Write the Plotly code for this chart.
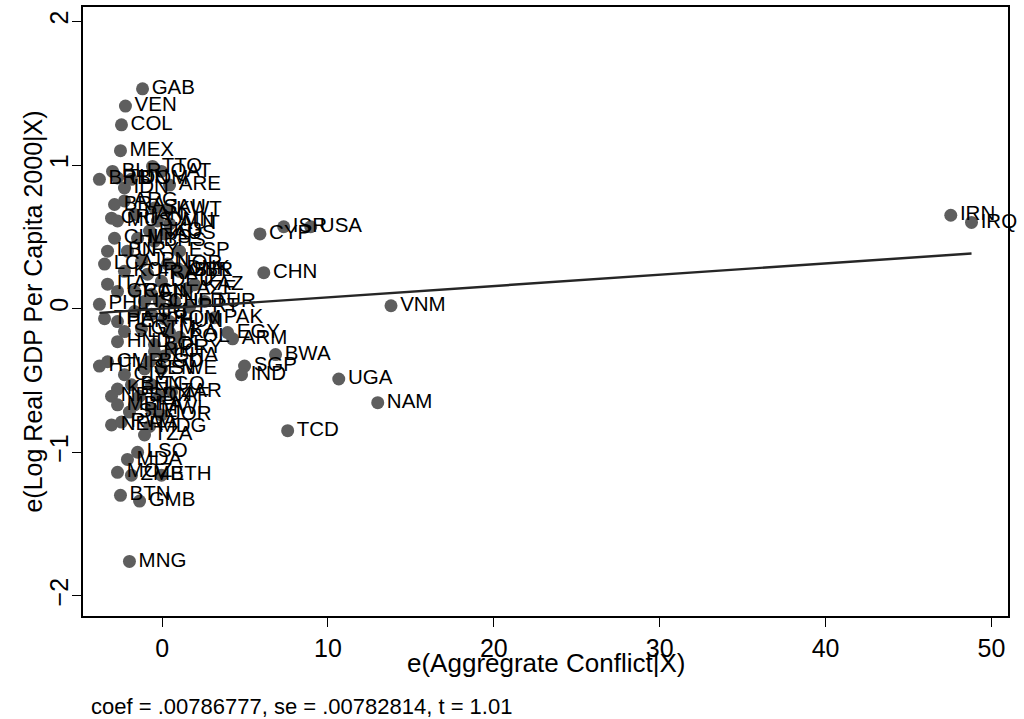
import plotly.graph_objects as go

# Country codes, residualised conflict (x) and residualised log GDP (y)
countries = [
    "GAB", "VEN", "COL", "MEX", "TTO", "QAT", "BLR", "BRB", "TUN", "DOM",
    "ARE", "IDN", "ARG", "BRA", "KWT", "SAU", "OMN", "CRI", "PAN", "MUS",
    "AUT", "CHL", "MYS", "AUS", "BHS", "HKG", "LBN", "LCA", "URY", "JPN",
    "KOR", "FRA", "NOR", "DNK", "GBR", "ESP", "BEL", "DEU", "ITA", "GRC",
    "CAN", "FIN", "AZE", "KAZ", "TUR", "NLD", "PRT", "CHE", "ISL", "PHL",
    "THA", "PER", "ECU", "IRL", "ROM", "HUN", "SLV", "GTM", "LKA", "POL",
    "BOL", "PRY", "HND", "CMR", "NIC", "GHA", "BGD", "SEN", "SWE", "CIV",
    "HTI", "KEN", "BEN", "TGO", "ZAR", "SDN", "CAF", "NPL", "MLI", "BFA",
    "MWI", "SLE", "NER", "RWA", "JOR", "MDG", "TZA", "LSO", "MDA", "MOZ",
    "ZMB", "ETH", "BTN", "GMB", "MNG", "ISR", "USA", "CYP", "CHN", "VNM",
    "PAK", "EGY", "ARM", "BWA", "SGP", "IND", "UGA", "NAM", "TCD", "IRN",
    "IRQ",
]
conflict_resid = [
    -1.18, -2.21, -2.45, -2.51, -0.58, -0.04, -2.99, -3.78, -2.69, -1.85,
    0.45, -2.27, -2.27, -2.87, 0.30, -0.46, -0.28, -3.05, -1.66, -2.69,
    0.45, -2.87, -1.48, 0.14, -0.46, -0.76, -3.29, -3.47, -2.09, -1.24,
    -2.27, -0.88, 0.33, 0.93, 1.05, 1.05, 1.35, -0.04, -3.29, -2.69,
    -1.66, -0.64, 1.53, 1.95, 2.56, 0.75, 1.65, -0.16, -1.06, -3.78,
    -3.47, -2.69, -1.66, -0.64, 0.14, 0.45, -2.27, -1.24, 0.45, 1.05,
    -0.46, 0.57, -2.69, -3.29, -0.46, 0.14, -0.76, -1.06, -0.04, -2.27,
    -3.78, -2.69, -1.85, -0.64, 0.57, -1.36, -0.16, -3.05, -2.69, -1.66,
    -0.64, -1.97, -3.05, -2.45, -0.04, -0.76, -1.06, -1.48, -2.09, -2.69,
    -1.85, -0.04, -2.51, -1.36, -1.97, 7.33, 8.96, 5.90, 6.13, 13.80,
    3.16, 3.95, 4.25, 6.84, 4.97, 4.79, 10.65, 13.00, 7.57, 47.55,
    48.80,
]
gdp_resid = [
    1.53, 1.41, 1.28, 1.10, 0.99, 0.955, 0.955, 0.90, 0.91, 0.90,
    0.86, 0.84, 0.75, 0.725, 0.69, 0.70, 0.61, 0.63, 0.655, 0.61,
    0.59, 0.49, 0.49, 0.52, 0.47, 0.54, 0.40, 0.31, 0.40, 0.33,
    0.26, 0.24, 0.31, 0.28, 0.26, 0.40, 0.26, 0.19, 0.17, 0.12,
    0.12, 0.10, 0.14, 0.167, 0.05, 0.05, 0.01, 0.05, 0.05, 0.03,
    -0.07, -0.09, -0.02, -0.04, -0.07, -0.09, -0.16, -0.14, -0.167, -0.20,
    -0.25, -0.27, -0.23, -0.37, -0.30, -0.33, -0.37, -0.42, -0.42, -0.46,
    -0.40, -0.56, -0.53, -0.53, -0.58, -0.61, -0.61, -0.61, -0.67, -0.67,
    -0.70, -0.72, -0.81, -0.79, -0.74, -0.82, -0.88, -1.00, -1.05, -1.14,
    -1.16, -1.16, -1.30, -1.34, -1.76, 0.57, 0.57, 0.52, 0.25, 0.02,
    -0.063, -0.167, -0.21, -0.32, -0.40, -0.46, -0.49, -0.655, -0.85, 0.65,
    0.60,
]

coef = 0.00786777
note_text = "coef = .00786777, se = .00782814, t = 1.01"
x_title = "e(Aggregrate Conflict|X)"
y_title = "e(Log Real GDP Per Capita 2000|X)"
x_ticks = [0, 10, 20, 30, 40, 50]
y_ticks = [-2, -1, 0, 1, 2]

FONT = "Liberation Sans, Arial, Helvetica, sans-serif"

fig = go.Figure()
fig.add_trace(go.Scatter(
    x=conflict_resid, y=gdp_resid, text=countries,
    mode="markers+text", textposition="middle right",
    textfont=dict(family=FONT, size=20.5, color="black"),
    marker=dict(size=13, color="#5e5e5e", line=dict(width=0)),
    cliponaxis=False,
    showlegend=False, hoverinfo="text+x+y",
))

x_lo, x_hi = min(conflict_resid), max(conflict_resid)
fig.add_trace(go.Scatter(
    x=[x_lo, x_hi], y=[coef * x_lo, coef * x_hi],
    mode="lines", line=dict(color="#262626", width=2.4),
    showlegend=False, hoverinfo="skip",
))

fig.update_layout(
    width=1024, height=719,
    margin=dict(l=83, r=16, t=5, b=103),
    paper_bgcolor="white", plot_bgcolor="white",
    font=dict(family=FONT, color="black"),
    xaxis=dict(
        range=[-4.77, 51.0], tickvals=x_ticks, ticks="outside", ticklen=9,
        tickwidth=1.2, tickcolor="black",
        showline=True, linecolor="black", linewidth=1.5, mirror=True,
        showgrid=False, zeroline=False,
        tickfont=dict(size=25),
    ),
    yaxis=dict(
        range=[-2.14, 2.10], tickvals=y_ticks, ticks="outside", ticklen=9,
        tickwidth=1.2, tickcolor="black", tickangle=-90,
        showline=True, linecolor="black", linewidth=1.5, mirror=True,
        showgrid=False, zeroline=False,
        tickfont=dict(size=25), ticklabelstandoff=-6,
    ),
    annotations=[
        dict(text=x_title, xref="paper", yref="paper", x=0.5, y=-0.0769,
             xanchor="center", yanchor="middle", showarrow=False,
             font=dict(size=26, family=FONT, color="black")),
        dict(text=y_title, xref="paper", yref="paper", x=-0.0551, y=0.5,
             xanchor="center", yanchor="middle", textangle=-90,
             showarrow=False,
             font=dict(size=25, family=FONT, color="black")),
        dict(text=note_text, xref="paper", yref="paper",
             x=0.0065, y=-0.149, xanchor="left", yanchor="middle",
             showarrow=False, font=dict(size=22, family=FONT, color="black")),
    ],
)

fig.write_html("out.html", config={"displayModeBar": False},
               post_script="document.body.style.margin='0px';")
